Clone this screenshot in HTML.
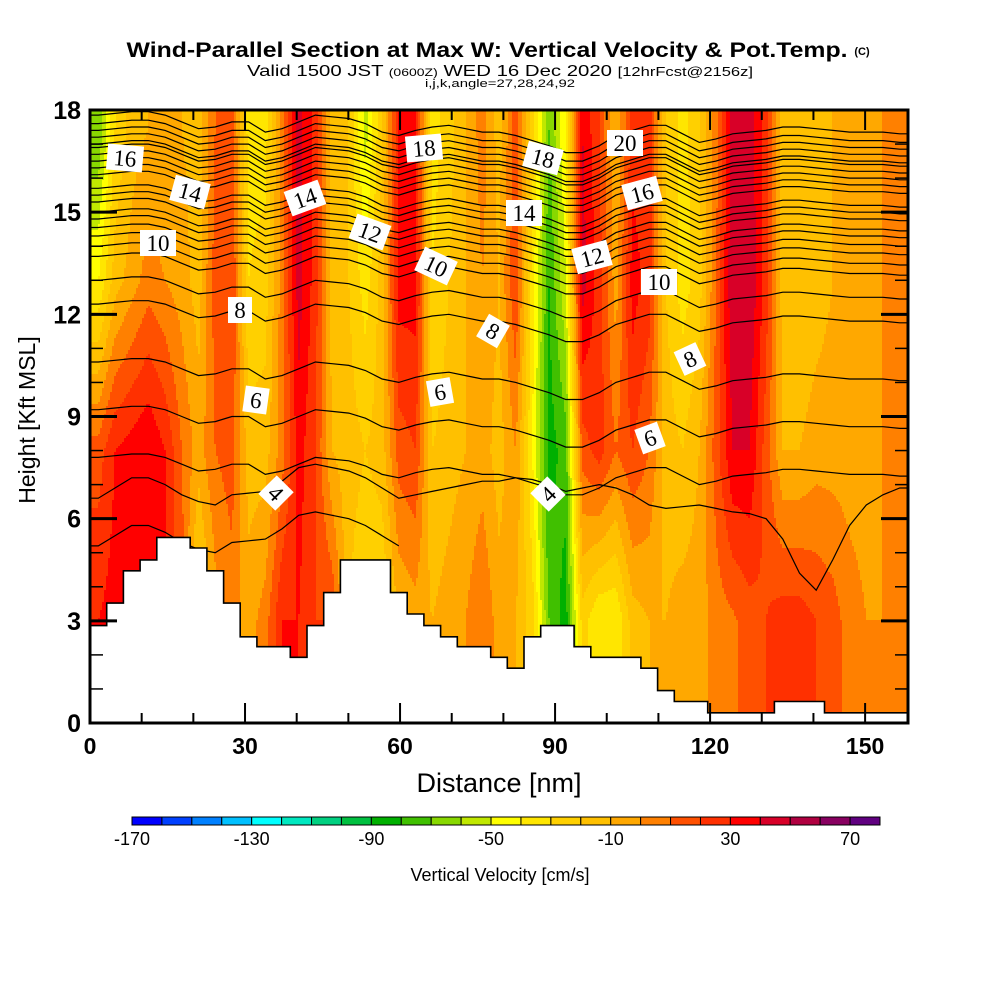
<!DOCTYPE html>
<html><head><meta charset="utf-8">
<style>
html,body{margin:0;padding:0;background:#fff;}
svg{display:block;}
text{font-family:"Liberation Sans",sans-serif;}
.lbl{font-family:"Liberation Serif",serif;font-size:23px;}
</style></head>
<body>
<svg id="chart" width="1000" height="1000" viewBox="0 0 1000 1000" xmlns="http://www.w3.org/2000/svg">
<defs><clipPath id="plotclip"><rect x="90" y="110" width="818" height="613"/></clipPath></defs>
<text x="487" y="57" text-anchor="middle" font-size="21" font-weight="bold" textLength="721" lengthAdjust="spacingAndGlyphs">Wind-Parallel Section at Max W: Vertical Velocity &amp; Pot.Temp.</text>
<text x="862" y="55" text-anchor="middle" font-size="11" font-weight="bold">(C)</text>
<text x="500" y="76" text-anchor="middle" font-size="16" textLength="506" lengthAdjust="spacingAndGlyphs">Valid 1500 JST <tspan font-size="11">(0600Z)</tspan> WED 16 Dec 2020 <tspan font-size="13">[12hrFcst@2156z]</tspan></text>
<text x="500" y="87" text-anchor="middle" font-size="11" textLength="150" lengthAdjust="spacingAndGlyphs">i,j,k,angle=27,28,24,92</text>
<g id="field" clip-path="url(#plotclip)"></g>
<g id="contours" clip-path="url(#plotclip)"></g>
<g id="terrain" clip-path="url(#plotclip)"></g>
<g id="labels"></g>
<g id="axes"></g>
<text transform="translate(35,420) rotate(-90)" text-anchor="middle" font-size="23">Height [Kft MSL]</text>
<text x="499" y="792" text-anchor="middle" font-size="27">Distance [nm]</text>
<g id="cbar"></g>
<text x="500" y="881" text-anchor="middle" font-size="18">Vertical Velocity [cm/s]</text>
</svg>
<script>
// ---- data ----
const nmMax = 158.3;
const levelHeights = [3, 8, 13, 17.5];
const wLow  = [30,35,35,35,30,15,-30,-5,5,-5,5,30,30,20,20,-20,-30,-30,-10,-5,-10,-5,0,10,-5,-10,-25,-70,-85,-25,-40,-40,-15,-10,-10,-5,-5,5,8,15,20,25,25,20,15,5,0,0,5];
const wMid  = [15,30,35,40,30,10,-5,10,15,-15,-15,5,35,20,-10,-15,-20,-15,15,20,-20,-15,-10,-5,-15,0,-40,-85,-75,15,25,10,20,10,-15,-20,-10,15,40,40,15,-10,-10,-5,-5,-5,-5,0,0];
const wHigh = [-40,-15,-5,5,0,-5,-15,15,20,-30,-25,5,45,25,-15,-20,-35,-15,35,35,-30,-20,-10,0,-10,20,-35,-80,-50,45,25,-5,35,25,-20,-35,-25,10,50,50,25,-15,-20,-15,-10,-5,-5,0,5];
const wTop  = [-70,-30,-15,-10,-10,-10,-15,10,15,-35,-35,5,45,25,-15,-20,-55,-20,30,30,-35,-25,-10,5,-15,15,-25,-70,-40,40,20,-10,25,25,-20,-35,-20,5,45,45,25,-15,-20,-15,-10,-10,-5,0,5];
const terrainH = [2.86,3.52,4.47,4.79,5.45,5.45,5.14,4.47,3.52,2.53,2.24,2.24,1.93,2.86,3.83,4.79,4.79,4.79,3.83,3.20,2.86,2.53,2.24,2.24,1.93,1.61,2.53,2.86,2.86,2.24,1.93,1.93,1.93,1.61,0.95,0.63,0.63,0.30,0.30,0.30,0.30,0.63,0.63,0.63,0.30,0.30,0.30,0.30,0.30];
const thetaValues = [3,4,5,6,7,8,9,10,11,12,13,14,15,16,17,18,19,20,21,22,23,24,25,26,27,28];
const thetaBase   = [5.2,6.6,7.8,9.2,10.6,12.3,13.0,13.7,14.0,14.3,14.55,14.8,15.0,15.3,15.5,15.7,16.1,16.3,16.5,16.7,16.9,17.0,17.2,17.4,17.6,17.85];
const thetaMaxNm  = [62,158.3,158.3,158.3,158.3,158.3,158.3,158.3,158.3,158.3,158.3,158.3,158.3,158.3,158.3,158.3,158.3,158.3,158.3,158.3,158.3,158.3,158.3,158.3,158.3,158.3];
const dispHigh = [0,0.05,0.1,0.1,0,-0.2,-0.4,-0.35,-0.2,-0.2,-0.5,-0.4,-0.2,0,-0.05,-0.1,-0.25,-0.5,-0.6,-0.45,-0.35,-0.3,-0.4,-0.5,-0.5,-0.6,-0.75,-0.9,-1.1,-1.1,-0.9,-0.6,-0.45,-0.3,-0.3,-0.55,-0.8,-0.7,-0.55,-0.5,-0.45,-0.35,-0.35,-0.4,-0.45,-0.5,-0.5,-0.5,-0.55];
const dispLow = [0,0.3,0.6,0.6,0.4,0.1,-0.1,-0.2,0.1,0.15,0.2,0.5,0.9,1.0,0.9,0.8,0.6,0.3,0,0.1,0.2,0.3,0.4,0.5,0.5,0.6,0.55,0.4,0.2,0.3,0.4,0.3,0.1,-0.2,-0.3,-0.25,-0.2,-0.3,-0.4,-0.45,-0.6,-1.2,-2.2,-2.7,-1.8,-0.8,-0.2,0.1,0.3];
const cbarTicks = [-170,-130,-90,-50,-10,30,70];
const xTicks = [0,30,60,90,120,150];
const yTicks = [0,3,6,9,12,15,18];
const colors = ["#0000ff","#0040ff","#0080ff","#00c0ff","#00ffff","#00e8c0","#00d080","#00c040","#00b000","#40c000","#88d800","#c0e800","#ffff00","#ffe600","#ffd000","#ffc000","#ffa800","#ff8000","#ff5000","#ff3000","#ff0000","#d80028","#b00040","#880060","#600080"];
const cLabels = [["16",125,158,5],["14",190,192,15],["10",158,243,0],["8",240,310,0],["6",256,400,8],["4",276,493,45],["14",305,198,-20],["12",370,232,20],["10",436,266,25],["8",493,331,30],["6",440,392,-10],["18",424,148,-5],["18",543,158,15],["14",524,213,0],["20",625,143,0],["16",642,193,-15],["12",592,257,-15],["10",659,282,0],["8",690,359,-25],["6",650,438,-20],["4",548,494,-45]];

// ---- scales ----
const X0=90,X1=908,Y0=723,Y1=110;
const xScale = nm => X0 + nm*(X1-X0)/nmMax;
const yScale = h => Y0 - h*(Y0-Y1)/18;
const nCol = wLow.length, dx = nmMax/nCol;
const NS="http://www.w3.org/2000/svg";
function mk(tag, attrs, parent){const e=document.createElementNS(NS,tag);for(const k in attrs)e.setAttribute(k,attrs[k]);parent.appendChild(e);return e;}

function colProfile(c,h){
  const v=[wLow[c],wMid[c],wHigh[c],wTop[c]];
  if(h<=levelHeights[0])return v[0];
  if(h>=levelHeights[3])return v[3];
  for(let j=0;j<3;j++){if(h<=levelHeights[j+1]){const t=(h-levelHeights[j])/(levelHeights[j+1]-levelHeights[j]);return v[j]+(v[j+1]-v[j])*t;}}
}
function wAt(nm,h){
  let f=nm/dx-0.5; if(f<0)f=0; if(f>nCol-1)f=nCol-1;
  const i=Math.min(Math.floor(f),nCol-2), t=f-i;
  return colProfile(i,h)*(1-t)+colProfile(i+1,h)*t;
}
function colorIdx(v){let k=Math.floor((v+170)/10);return Math.max(0,Math.min(24,k));}

// ---- field ----
const field=document.getElementById('field');
const step=2;
for(let py=Y1;py<Y0;py+=step){
  const h=(Y0-(py+step/2))*18/(Y0-Y1);
  let runStart=X0, runC=-1;
  for(let px=X0;px<=X1;px+=step){
    let c=-2;
    if(px<X1){const nm=(px+step/2-X0)*nmMax/(X1-X0);c=colorIdx(wAt(nm,h));}
    if(c!==runC){
      if(runC>=0){
        const r=mk('rect',{x:runStart,y:py,width:px-runStart,height:step,fill:colors[runC]},field);
        
        
      }
      runStart=px;runC=c;
    }
  }
}

// ---- contours ----
const cg=document.getElementById('contours');
thetaValues.forEach((th,k)=>{
  const disp = th<=4 ? dispLow : dispHigh;
  const pts=[];
  pts.push([xScale(0),yScale(thetaBase[k]+disp[0])]);
  for(let i=0;i<nCol;i++){
    const nm=(i+0.5)*dx;
    if(nm>thetaMaxNm[k])break;
    pts.push([xScale(nm),yScale(thetaBase[k]+disp[i])]);
  }
  if(thetaMaxNm[k]>=nmMax)pts.push([xScale(nmMax),yScale(thetaBase[k]+disp[nCol-1])]);
  const p=mk('polyline',{points:pts.map(p=>p[0].toFixed(1)+','+p[1].toFixed(1)).join(' '),fill:'none',stroke:'#000','stroke-width':1.2},cg);
  
  
});

// ---- terrain ----
const tg=document.getElementById('terrain');
let d='M'+X0+','+Y0;
terrainH.forEach((h,i)=>{const xa=xScale(i*dx),xb=xScale((i+1)*dx),y=yScale(h);d+=' L'+xa.toFixed(1)+','+y.toFixed(1)+' L'+xb.toFixed(1)+','+y.toFixed(1);});
d+=' L'+X1+','+Y0+' Z';
const tp=mk('path',{d:d,fill:'#fff',stroke:'#000','stroke-width':1.6},tg);



// ---- contour labels ----
const lg=document.getElementById('labels');
cLabels.forEach(l=>{
  const g=mk('g',{transform:`translate(${l[1]},${l[2]}) rotate(${l[3]})`},lg);
  
  
  const w=l[0].length>1?36:24;
  mk('rect',{x:-w/2,y:-13,width:w,height:26,fill:'#fff'},g);
  const t=mk('text',{x:0,y:8,'text-anchor':'middle',class:'lbl'},g);
  t.textContent=l[0];
});

// ---- axes ----
const ag=document.getElementById('axes');
mk('rect',{x:X0,y:Y1,width:X1-X0,height:Y0-Y1,fill:'none',stroke:'#000','stroke-width':3},ag);
for(let v=0;v<=nmMax;v+=10){
  const x=xScale(v),L=(v%30===0)?20:10;
  mk('line',{x1:x,y1:Y0,x2:x,y2:Y0-L,stroke:'#000','stroke-width':2},ag);
  mk('line',{x1:x,y1:Y1,x2:x,y2:Y1+L,stroke:'#000','stroke-width':2},ag);
}
for(let v=0;v<=18;v+=1){
  const y=yScale(v),L=(v%3===0)?27:13;
  mk('line',{x1:X0,y1:y,x2:X0+L,y2:y,stroke:'#000','stroke-width':v%3===0?3:1.5},ag);
  mk('line',{x1:X1,y1:y,x2:X1-L,y2:y,stroke:'#000','stroke-width':v%3===0?3:1.5},ag);
}
xTicks.forEach(v=>{
  const t=mk('text',{x:xScale(v),y:754,'text-anchor':'middle','font-size':23,'font-weight':'bold'},ag);
  
  
  t.textContent=v;
});
yTicks.forEach(v=>{
  const t=mk('text',{x:81,y:yScale(v)+9,'text-anchor':'end','font-size':25,'font-weight':'bold'},ag);
  
  
  t.textContent=v;
});

// ---- colorbar ----
const cb=document.getElementById('cbar');
const cbX=132,cbW=29.92;
colors.forEach((c,i)=>{
  const r=mk('rect',{x:cbX+i*cbW,y:817,width:cbW,height:8,fill:c,stroke:'#000','stroke-width':1},cb);
  
  
});
cbarTicks.forEach(v=>{
  const t=mk('text',{x:cbX+(v+170)/10*cbW,y:845,'text-anchor':'middle','font-size':18},cb);
  
  
  t.textContent=v;
});
</script>
</body></html>
